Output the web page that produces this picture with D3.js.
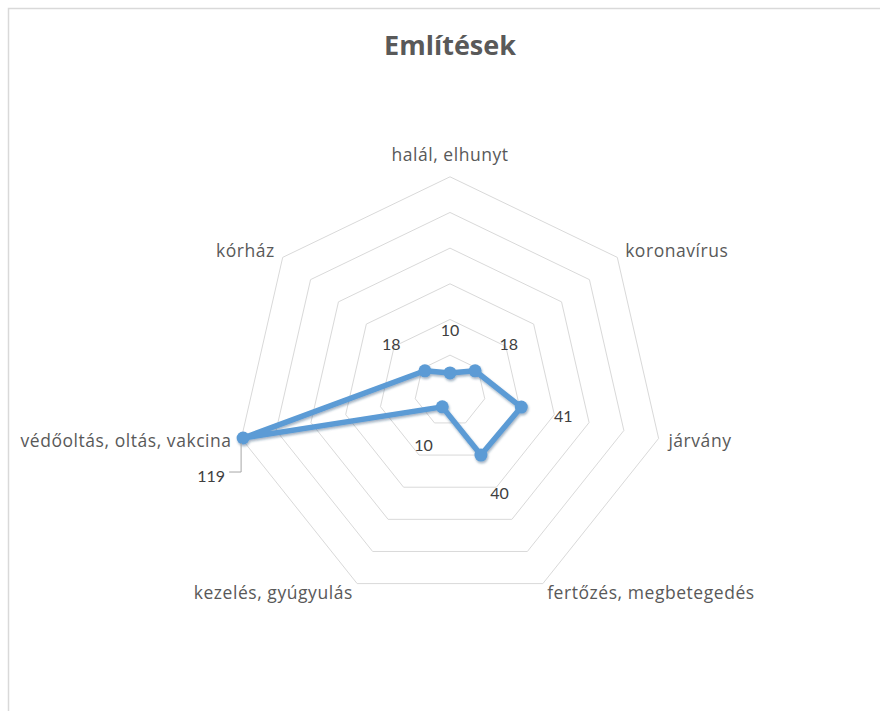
<!DOCTYPE html>
<html>
<head>
<meta charset="utf-8">
<script src="https://cdn.jsdelivr.net/npm/d3@7"></script>
<style>
  html, body { margin: 0; padding: 0; background: #ffffff; }
  svg { display: block; }
</style>
</head>
<body>
<svg id="chart" width="880" height="711"></svg>
<script>
// ---- data ----
const title = "Említések";
const categories = [
  "halál, elhunyt",
  "koronavírus",
  "járvány",
  "fertőzés, megbetegedés",
  "kezelés, gyúgyulás",
  "védőoltás, oltás, vakcina",
  "kórház"
];
const values = [10, 18, 41, 40, 10, 119, 18];
const ringTicks = [20, 40, 60, 80, 100, 120];

// ---- layout ----
const W = 880, H = 711;
const cx = 450, cy = 390.8, R = 214;
const svg = d3.select("#chart");

const defs = svg.append("defs");
const f = defs.append("filter").attr("id", "shadow")
  .attr("x", "-20%").attr("y", "-20%").attr("width", "140%").attr("height", "140%");
f.append("feDropShadow").attr("dx", 0.8).attr("dy", 1.8).attr("stdDeviation", 1.3)
  .attr("flood-color", "#1f3f66").attr("flood-opacity", 0.4);

// chart border
svg.append("rect").attr("x", 8.5).attr("y", 8.5).attr("width", 1000).attr("height", 1000)
  .attr("fill", "none").attr("stroke", "#d9d9d9").attr("stroke-width", 1.5);

// title
svg.append("text").attr("x", cx).attr("y", 55)
  .attr("text-anchor", "middle")
  .attr("font-family", "'Open Sans', 'Noto Sans', sans-serif")
  .attr("font-weight", "bold").attr("font-size", 27)
  .attr("fill", "#595959").text(title);

const angle = d3.scaleBand().domain(categories).range([0, 2 * Math.PI]).align(0);
const angleOf = c => angle(c);
const r = d3.scaleLinear().domain([0, d3.max(ringTicks)]).range([0, R]);

const g = svg.append("g").attr("transform", `translate(${cx},${cy})`);

// grid rings
const ringLine = d3.lineRadial()
  .angle(c => angleOf(c))
  .curve(d3.curveLinearClosed);
g.append("g").selectAll("path").data(ringTicks).join("path")
  .attr("d", t => ringLine.radius(() => r(t))(categories))
  .attr("fill", "none").attr("stroke", "#d9d9d9").attr("stroke-width", 1);

// category labels
const catG = g.append("g")
  .attr("font-family", "'Open Sans', 'Noto Sans', sans-serif")
  .attr("font-size", 17.5).attr("letter-spacing", 0.55).attr("fill", "#595959");
categories.forEach(c => {
  const a = angleOf(c);
  const s = Math.sin(a), co = Math.cos(a);
  const t = catG.append("text").text(c);
  if (Math.abs(s) < 0.1) {
    t.attr("x", 0).attr("y", -(R + 16)).attr("text-anchor", "middle");
  } else {
    const rr = R + 10;
    t.attr("x", s * rr).attr("y", -co * rr)
      .attr("dy", "0.35em")
      .attr("text-anchor", s > 0 ? "start" : "end");
  }
});

// series line
const pts = categories.map((c, i) => ({ c, v: values[i] }));
const seriesLine = d3.lineRadial()
  .angle(d => angleOf(d.c))
  .radius(d => r(d.v))
  .curve(d3.curveLinearClosed);
const sG = g.append("g").attr("filter", "url(#shadow)");
sG.append("path").attr("d", seriesLine(pts))
  .attr("fill", "none").attr("stroke", "#5b9bd5").attr("stroke-width", 5.5)
  .attr("stroke-linejoin", "round");
sG.selectAll("circle").data(pts).join("circle")
  .attr("cx", d => Math.sin(angleOf(d.c)) * r(d.v))
  .attr("cy", d => -Math.cos(angleOf(d.c)) * r(d.v))
  .attr("r", 6.5).attr("fill", "#5b9bd5");

// data labels
const lblG = g.append("g")
  .attr("font-family", "Lato, 'Open Sans', sans-serif")
  .attr("font-size", 16).attr("fill", "#404040");
pts.forEach(d => {
  const a = angleOf(d.c);
  const s = Math.sin(a), co = Math.cos(a);
  const pr = r(d.v);
  const px = s * pr, py = -co * pr;
  const lr = pr + 43;
  if (lr > R) {
    // label moved below the point, with a leader line
    lblG.append("path")
      .attr("d", `M${px - 2},${py + 5} L${px - 2},${py + 34} L${px - 14},${py + 34}`)
      .attr("fill", "none").attr("stroke", "#a6a6a6").attr("stroke-width", 1);
    lblG.append("text").attr("x", px - 18).attr("y", py + 38.5)
      .attr("dy", "0.35em").attr("text-anchor", "end").text(d.v);
  } else {
    lblG.append("text").attr("x", s * lr).attr("y", -co * lr)
      .attr("dy", "0.35em").attr("text-anchor", "middle").text(d.v);
  }
});
</script>
</body>
</html>
